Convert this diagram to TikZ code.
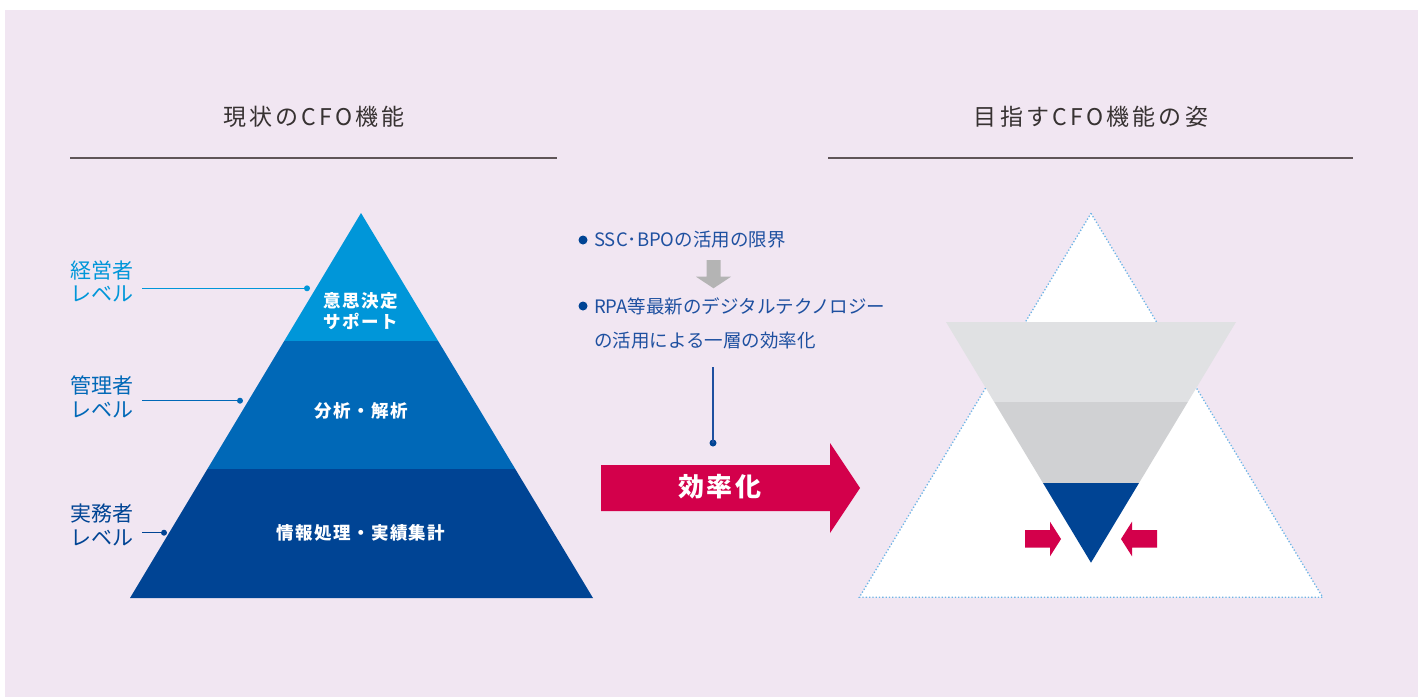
\documentclass[tikz,border=0pt]{standalone}
\usepackage{fontspec}
\newfontfamily\jp{Noto Sans CJK JP}
\definecolor{bgc}{RGB}{241,230,242}
\definecolor{lb}{RGB}{0,150,217}
\definecolor{mb}{RGB}{0,104,183}
\definecolor{db}{RGB}{0,68,148}
\definecolor{tb}{RGB}{30,80,160}
\definecolor{rc}{RGB}{211,0,75}
\definecolor{ga}{RGB}{180,180,180}
\definecolor{g1}{RGB}{224,225,227}
\definecolor{g2}{RGB}{208,209,211}
\definecolor{dotc}{RGB}{110,180,230}
\definecolor{tt}{RGB}{55,50,50}
\definecolor{rulec}{RGB}{95,85,88}
\begin{document}
\begin{tikzpicture}[x=1pt,y=-1pt,
  title/.style={text=tt,inner sep=0pt,font=\jp\fontsize{23}{27}\selectfont\addfontfeature{LetterSpace=14}},
  rulel/.style={draw=rulec,line width=1.3pt},
  lvl/.style={inner sep=0pt,anchor=east,align=right,font=\jp\fontsize{21}{23.5}\selectfont},
  ptxt/.style={text=white,inner sep=0pt,align=center,font=\jp\bfseries\fontsize{17.5}{21}\selectfont\addfontfeature{LetterSpace=8}},
  mtxt/.style={text=tb,inner sep=0pt,anchor=west,font=\jp\fontsize{18.5}{22}\selectfont},
  conn/.style={line width=1.2pt},
  dotn/.style={circle,fill,inner sep=0pt,minimum size=6pt},
  bul/.style={circle,fill=db,inner sep=0pt,minimum size=9pt}
]
\useasboundingbox (0,0) rectangle (1418,697);
\fill[white] (0,0) rectangle (1418,697);
\fill[bgc] (5,10) rectangle (1418,697);

% titles
\node[title] (t1) at (314,117) {現状のCFO機能};
\node[title] (t2) at (1091,117) {目指すCFO機能の姿};
\draw[rulel] (70,158) -- (557,158);
\draw[rulel] (828,158) -- (1353,158);

% left pyramid
\begin{scope}
\clip (361,213) -- (593,598) -- (130,598) -- cycle;
\fill[lb] (100,200) rectangle (640,341);
\fill[mb] (100,341) rectangle (640,469.3);
\fill[db] (100,469.3) rectangle (640,600);
\end{scope}
\node[ptxt] (p1) at (361,311) {意思決定\\サポート};
\node[ptxt] (p2) at (361,410.7) {分析・解析};
\node[ptxt] (p3) at (361,533) {情報処理・実績集計};

% level labels
\node[lvl,text=lb] (l1) at (134,281.5) {経営者\\レベル};
\node[lvl,text=mb] (l2) at (134,397) {管理者\\レベル};
\node[lvl,text=db] (l3) at (134,525) {実務者\\レベル};
\coordinate (c1) at (142,288.3);
\coordinate (c2) at (142,400.7);
\coordinate (c3) at (142,532.7);
\node[dotn,fill=lb] (d1) at (307,288.3) {};
\node[dotn,fill=mb] (d2) at (240,400.7) {};
\node[dotn,fill=db] (d3) at (164,532.7) {};
\draw[conn,lb] (c1) -- (d1.center);
\draw[conn,mb] (c2) -- (d2.center);
\draw[conn,db] (c3) -- (d3.center);

% middle text
\node[bul] (b1) at (583,240) {};
\node[mtxt] (m1) at (594,240) {SSC･BPOの活用の限界};
\fill[ga] (706.5,260) -- (720.5,260) -- (720.5,276.7) -- (731,276.7) -- (713.5,288.3) -- (696,276.7) -- (706.5,276.7) -- cycle;
\node[bul] (b2) at (583,306) {};
\node[mtxt] (m2) at (594,306) {RPA等最新のデジタルテクノロジー};
\node[mtxt] (m3) at (594,341) {の活用による一層の効率化};
\coordinate (v1) at (713,367);
\node[dotn,fill=db,minimum size=7pt] (vd) at (713,443) {};
\draw[conn,tb] (v1) -- (vd.center);

% big red arrow
\fill[rc] (601,465) -- (830,465) -- (830,443) -- (860,488) -- (830,533) -- (830,511) -- (601,511) -- cycle;
\node[text=white,inner sep=0pt,font=\jp\bfseries\fontsize{26}{30}\selectfont\addfontfeature{LetterSpace=8}] (eff) at (720,487) {効率化};

% right triangle
\draw[dotc,dotted,line width=1.3pt,fill=white] (1091,213.3) -- (1322.7,597.3) -- (859.3,597.3) -- cycle;
\begin{scope}
\clip (946,322) -- (1236,322) -- (1091,562.7) -- cycle;
\fill[g1] (930,320) rectangle (1250,402);
\fill[g2] (930,402) rectangle (1250,482.7);
\fill[db] (930,482.7) rectangle (1250,570);
\end{scope}

% small arrows
\fill[rc] (1025,530) -- (1050,530) -- (1050,521.7) -- (1061,539) -- (1050,556.3) -- (1050,547.7) -- (1025,547.7) -- cycle;
\fill[rc] (1157,530) -- (1132,530) -- (1132,521.7) -- (1121,539) -- (1132,556.3) -- (1132,547.7) -- (1157,547.7) -- cycle;
\end{tikzpicture}
\end{document}
